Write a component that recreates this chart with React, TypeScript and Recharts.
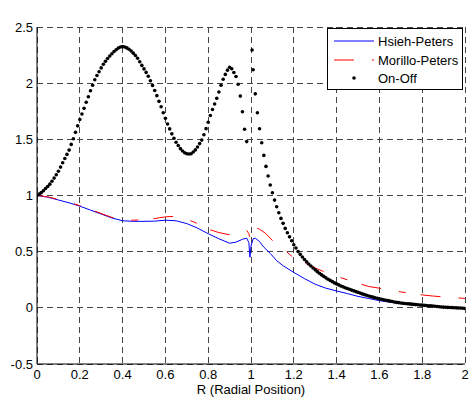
import React from "react";
import { LineChart, Line, XAxis, YAxis, CartesianGrid, Legend, Label } from "recharts";

const FONT = "Arial, 'Liberation Sans', Helvetica, sans-serif";

const seriesNames = ["Hsieh-Peters", "Morillo-Peters", "On-Off"];
const xTicks = [0, 0.2, 0.4, 0.6, 0.8, 1, 1.2, 1.4, 1.6, 1.8, 2];
const yTicks = [-0.5, 0, 0.5, 1, 1.5, 2, 2.5];

const hsiehR = [
  0, 0.05, 0.1, 0.15, 0.2, 0.25, 0.3, 0.35, 0.4, 0.45, 0.5, 0.55, 0.6, 0.65, 0.7, 0.75, 0.8, 0.85, 0.9,
  0.93, 0.96, 0.98, 0.99, 0.995, 1, 1.01, 1.02, 1.04, 1.06, 1.09, 1.12, 1.15, 1.2, 1.25, 1.3, 1.35,
  1.4, 1.45, 1.5, 1.55, 1.6, 1.65, 1.7, 1.75, 1.8, 1.85, 1.9, 1.95, 2,
];
const hsiehValue = [
  1, 0.985, 0.96, 0.935, 0.905, 0.87, 0.835, 0.8, 0.775, 0.77, 0.77, 0.772, 0.78, 0.775, 0.75, 0.71, 0.66, 0.615, 0.575,
  0.585, 0.61, 0.62, 0.58, 0.45, 0.55, 0.615, 0.62, 0.59, 0.54, 0.484, 0.42, 0.375, 0.315, 0.26, 0.21, 0.175,
  0.15, 0.127, 0.102, 0.083, 0.064, 0.05, 0.038, 0.028, 0.02, 0.012, 0.005, 0, -0.005,
];

const morilloR = [
  0, 0.05, 0.1, 0.15, 0.2, 0.25, 0.3, 0.35, 0.4, 0.45, 0.5, 0.55, 0.6, 0.65, 0.7, 0.75, 0.8, 0.85, 0.9,
  0.93, 0.96, 0.98, 0.99, 0.995, 1, 1.01, 1.02, 1.04, 1.07, 1.1, 1.12, 1.16, 1.19, 1.24, 1.3, 1.35,
  1.4, 1.45, 1.5, 1.55, 1.6, 1.65, 1.7, 1.75, 1.8, 1.85, 1.9, 1.95, 2,
];
const morilloValue = [
  1, 0.988, 0.965, 0.94, 0.91, 0.875, 0.84, 0.805, 0.78, 0.78, 0.785, 0.795, 0.81, 0.815, 0.79, 0.75, 0.7, 0.67, 0.65,
  0.655, 0.675, 0.69, 0.66, 0.625, 0.66, 0.705, 0.715, 0.7, 0.66, 0.6, 0.573, 0.51, 0.46, 0.41, 0.355, 0.315,
  0.28, 0.25, 0.22, 0.19, 0.175, 0.16, 0.142, 0.128, 0.115, 0.105, 0.097, 0.09, 0.084,
];

const onOffR = [
  0, 0.01, 0.02, 0.03, 0.04, 0.05, 0.06, 0.07, 0.08, 0.09,
  0.1, 0.11, 0.12, 0.13, 0.14, 0.15, 0.16, 0.17, 0.18, 0.19,
  0.2, 0.21, 0.22, 0.23, 0.24, 0.25, 0.26, 0.27, 0.28, 0.29,
  0.3, 0.31, 0.32, 0.33, 0.34, 0.35, 0.36, 0.37, 0.38, 0.39,
  0.4, 0.41, 0.42, 0.43, 0.44, 0.45, 0.46, 0.47, 0.48, 0.49,
  0.5, 0.51, 0.52, 0.53, 0.54, 0.55, 0.56, 0.57, 0.58, 0.59,
  0.6, 0.61, 0.62, 0.63, 0.64, 0.65, 0.66, 0.67, 0.68, 0.69,
  0.7, 0.71, 0.72, 0.73, 0.74, 0.75, 0.76, 0.77, 0.78, 0.79,
  0.8, 0.81, 0.82, 0.83, 0.84, 0.85, 0.86, 0.87, 0.88, 0.89,
  0.9, 0.91, 0.92, 0.93, 0.94, 0.95, 0.96, 0.97, 0.98,
  1.005, 1.01, 1.02, 1.03, 1.04, 1.05, 1.06, 1.07, 1.08, 1.09,
  1.1, 1.11, 1.12, 1.13, 1.14, 1.15, 1.16, 1.17, 1.18, 1.19,
  1.2, 1.21, 1.22, 1.23, 1.24, 1.25, 1.26, 1.27, 1.28, 1.29,
  1.3, 1.31, 1.32, 1.33, 1.34, 1.35, 1.36, 1.37, 1.38, 1.39,
  1.4, 1.41, 1.42, 1.43, 1.44, 1.45, 1.46, 1.47, 1.48, 1.49,
  1.5, 1.51, 1.52, 1.53, 1.54, 1.55, 1.56, 1.57, 1.58, 1.59,
  1.6, 1.61, 1.62, 1.63, 1.64, 1.65, 1.66, 1.67, 1.68, 1.69,
  1.7, 1.71, 1.72, 1.73, 1.74, 1.75, 1.76, 1.77, 1.78, 1.79,
  1.8, 1.81, 1.82, 1.83, 1.84, 1.85, 1.86, 1.87, 1.88, 1.89,
  1.9, 1.91, 1.92, 1.93, 1.94, 1.95, 1.96, 1.97, 1.98, 1.99,
  2,
];
const onOffValue = [
  1, 1.012, 1.026, 1.042, 1.062, 1.08, 1.101, 1.127, 1.155, 1.185,
  1.216, 1.253, 1.292, 1.33, 1.366, 1.404, 1.455, 1.505, 1.562, 1.62,
  1.676, 1.726, 1.776, 1.83, 1.879, 1.932, 1.982, 2.03, 2.068, 2.102,
  2.136, 2.168, 2.194, 2.22, 2.242, 2.262, 2.282, 2.297, 2.312, 2.322,
  2.325, 2.322, 2.314, 2.302, 2.287, 2.267, 2.246, 2.222, 2.191, 2.158,
  2.127, 2.096, 2.061, 2.022, 1.98, 1.935, 1.889, 1.838, 1.79, 1.737,
  1.687, 1.637, 1.593, 1.549, 1.51, 1.474, 1.445, 1.417, 1.396, 1.381,
  1.371, 1.369, 1.372, 1.387, 1.406, 1.432, 1.462, 1.493, 1.541, 1.595,
  1.652, 1.712, 1.766, 1.815, 1.865, 1.922, 1.981, 2.035, 2.078, 2.116,
  2.142, 2.128, 2.095, 2.06, 1.99, 1.885, 1.745, 1.59, 1.48,
  2.295, 2.12, 1.905, 1.737, 1.594, 1.469, 1.357, 1.259, 1.173, 1.093,
  1.024, 0.959, 0.9, 0.846, 0.796, 0.752, 0.707, 0.668, 0.632, 0.597,
  0.561, 0.532, 0.502, 0.476, 0.452, 0.43, 0.41, 0.39, 0.372, 0.354,
  0.338, 0.322, 0.307, 0.293, 0.28, 0.267, 0.255, 0.244, 0.233, 0.222,
  0.213, 0.204, 0.195, 0.187, 0.179, 0.172, 0.165, 0.158, 0.151, 0.144,
  0.138, 0.131, 0.124, 0.118, 0.112, 0.106, 0.1, 0.095, 0.09, 0.085,
  0.08, 0.076, 0.072, 0.068, 0.064, 0.06, 0.056, 0.052, 0.049, 0.046,
  0.043, 0.041, 0.039, 0.037, 0.035, 0.033, 0.031, 0.029, 0.027, 0.025,
  0.024, 0.022, 0.021, 0.019, 0.018, 0.016, 0.014, 0.012, 0.01, 0.008,
  0.006, 0.005, 0.004, 0.003, 0.002, 0.001, 0, -0.001, -0.002, -0.004,
  -0.005,
];

const hsiehData = hsiehR.map((r, i) => ({ r, v: hsiehValue[i] }));
const morilloData = morilloR.map((r, i) => ({ r, v: morilloValue[i] }));
const onOffData = onOffR.map((r, i) => ({ r, v: onOffValue[i] }));

const RED_DASH = "20 18 7 15";

const XTick = ({ x, y, payload }: any) => (
  <text x={x} y={y + 14.5} textAnchor="middle" fontSize={13} fontFamily={FONT} fill="#000">
    {payload.value}
  </text>
);

const YTick = ({ x, y, payload }: any) => (
  <text x={x - 4} y={y + 4.5} textAnchor="end" fontSize={13} fontFamily={FONT} fill="#000">
    {payload.value}
  </text>
);

const LegendBox = () => (
  <svg width={136} height={62} style={{ display: "block" }}>
    <rect x={0.5} y={0.5} width={135} height={61} fill="#fff" stroke="#000" />
    <line x1={7} y1={13} x2={47} y2={13} stroke="#0000ff" strokeWidth={1} />
    <line x1={7} y1={32} x2={47} y2={32} stroke="#ff0000" strokeWidth={1} strokeDasharray={RED_DASH} />
    <circle cx={27} cy={50} r={1.8} fill="#000" />
    {seriesNames.map((name, i) => (
      <text key={name} x={51} y={18 + i * 18.5} fontSize={13} fontFamily={FONT} fill="#000">
        {name}
      </text>
    ))}
  </svg>
);

export default function App() {
  return (
    <div style={{ position: "absolute", left: 0, top: 0, background: "#fff" }}>
      <LineChart width={471} height={402} margin={{ top: 27, right: 6, bottom: 0, left: 0 }}>
        <CartesianGrid stroke="#444" strokeDasharray="6 4" shapeRendering="crispEdges" />
        <XAxis
          dataKey="r"
          type="number"
          domain={[0, 2]}
          ticks={xTicks}
          height={38}
          tickSize={0}
          tickMargin={0}
          tick={<XTick />}
          axisLine={{ stroke: "#000" }}
          allowDataOverflow
        >
          <Label value="R (Radial Position)" position="insideBottom" offset={8} fontSize={13} fontFamily={FONT} fill="#000" />
        </XAxis>
        <XAxis
          xAxisId="top"
          orientation="top"
          type="number"
          domain={[0, 2]}
          height={0}
          tick={false}
          tickLine={false}
          axisLine={{ stroke: "#000" }}
        >
          <Label value="Mode 2" position="top" offset={10} fontSize={13} fontFamily={FONT} fill="#000" />
        </XAxis>
        <YAxis
          type="number"
          domain={[-0.5, 2.5]}
          ticks={yTicks}
          width={37}
          tickSize={0}
          tickMargin={0}
          tick={<YTick />}
          axisLine={{ stroke: "#000" }}
          allowDataOverflow
        />
        <YAxis
          yAxisId="right"
          orientation="right"
          type="number"
          domain={[-0.5, 2.5]}
          width={0}
          tick={false}
          tickLine={false}
          axisLine={{ stroke: "#000" }}
        />
        <Line
          data={hsiehData}
          dataKey="v"
          name={seriesNames[0]}
          type="linear"
          stroke="#0000ff"
          strokeWidth={1}
          dot={false}
          isAnimationActive={false}
        />
        <Line
          data={morilloData}
          dataKey="v"
          name={seriesNames[1]}
          type="linear"
          stroke="#ff0000"
          strokeWidth={1}
          strokeDasharray={RED_DASH}
          dot={false}
          isAnimationActive={false}
        />
        <Line
          data={onOffData}
          dataKey="v"
          name={seriesNames[2]}
          type="linear"
          stroke="none"
          dot={{ r: 1.8, fill: "#000", stroke: "none" }}
          isAnimationActive={false}
        />
        <Legend
          layout="vertical"
          align="center"
          verticalAlign="middle"
          content={<LegendBox />}
          wrapperStyle={{ left: 327, top: 28, width: 136, height: 62 }}
        />
      </LineChart>
    </div>
  );
}
